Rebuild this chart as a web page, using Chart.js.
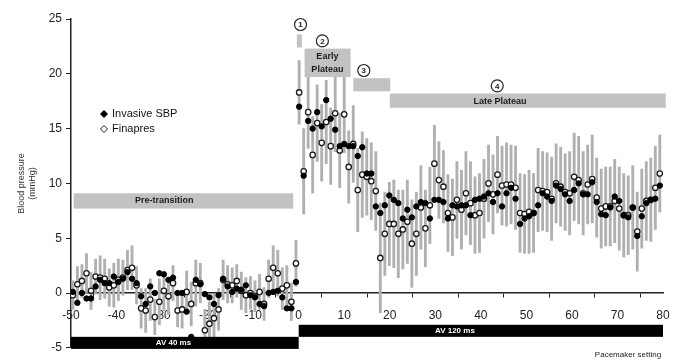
<!DOCTYPE html>
<html>
<head>
<meta charset="utf-8">
<script src="https://cdn.jsdelivr.net/npm/chart.js@4.4.1/dist/chart.umd.min.js"></script>
<style>
  body { margin: 0; background: #fff; }
  #wrap { width: 676px; height: 359px; }
</style>
</head>
<body>
<div id="wrap"><canvas id="bp"></canvas></div>
<script>
// sample times (min), one beat-average every ~1 unit
const preStart = -49.6
const preStep = 1.0
const postStart = 0.1
const postStep = 0.99

// AV 40 ms, before the switch
const invasivePre = [0.1,-0.9,0.0,-0.5,-0.5,0.6,1.2,0.9,0.9,1.5,
  1.0,1.3,1.9,1.3,0.9,-0.3,-1.0,0.6,0.0,1.8,
  1.7,1.2,1.4,0.0,0.0,-1.7,-4.0,1.2,0.8,-0.1,
  -0.4,-1.0,-0.2,1.3,0.6,0.1,0.4,0.3,0.7,-0.2,
  -0.4,-1.0,-1.2,0.0,0.1,0.2,-0.4,-1.4,-1.4,1.0]
const finapresPre = [-0.2,0.8,1.1,1.8,0.2,1.5,1.4,1.3,0.5,0.7,
  1.2,1.4,2.1,2.3,0.7,-1.4,-1.6,-0.6,-2.2,-0.8,
  0.2,-0.3,0.9,-1.6,-1.5,0.1,-1.0,0.9,0.9,-3.4,
  -2.8,-2.3,-1.5,1.2,0.8,0.7,1.1,0.2,-0.2,0.0,
  -0.3,0.1,-1.0,1.3,2.3,1.8,0.4,0.7,-0.8,2.7]
const sdPre = [1.3,1.6,1.5,1.8,1.7,1.6,2.0,1.8,1.7,2.0,
  1.9,1.6,1.8,2.0,1.7,1.8,2.0,1.9,1.6,2.1,
  1.8,1.7,1.6,1.5,1.7,1.9,2.0,2.1,1.8,1.9,
  2.0,2.2,1.9,1.8,1.7,1.6,1.5,1.7,1.6,1.5,
  1.4,1.6,1.5,1.7,2.0,2.1,1.9,1.8,1.7,2.1]

// AV 120 ms, after the switch
const invasivePost = [17.0,10.7,15.7,15.0,16.5,15.2,17.6,15.9,14.9,13.4,
  13.6,13.4,13.4,12.5,13.3,10.9,10.9,7.9,7.3,8.0,
  8.9,8.5,8.2,6.8,7.6,6.9,7.9,8.3,8.2,6.8,
  8.5,8.5,8.3,6.8,8.0,7.9,8.0,8.0,7.1,8.5,
  8.6,8.8,9.1,8.3,9.1,7.9,9.1,9.6,8.6,6.3,
  6.8,7.0,7.3,8.0,9.1,8.8,8.4,9.8,9.5,9.0,
  8.4,9.4,10.0,9.0,9.0,10.1,8.3,7.2,7.1,7.8,
  8.8,8.4,7.1,6.9,7.8,5.2,7.0,8.2,8.5,8.6,9.8]
const finapresPost = [18.3,11.1,16.5,12.6,15.5,13.7,15.6,13.4,16.4,13.0,
  16.3,11.5,13.6,9.4,10.8,10.6,10.2,9.3,3.2,5.4,
  6.3,6.3,5.4,5.8,6.5,4.5,5.4,7.8,5.9,8.0,
  11.8,10.3,9.7,7.3,6.9,8.5,7.6,9.1,8.2,7.1,
  7.3,8.6,10.0,9.0,10.8,9.8,9.9,9.9,9.6,7.3,
  7.2,7.4,7.3,9.4,9.3,9.2,8.6,10.0,9.7,9.2,
  9.1,10.6,10.3,9.1,9.9,10.4,8.7,7.7,7.9,7.9,
  8.4,7.7,7.1,7.1,7.8,5.6,7.7,8.4,8.5,9.6,10.9]
const sdPost = [2.9,3.9,3.3,3.5,3.5,3.5,3.8,3.5,3.5,3.4,
  3.5,3.3,3.5,3.8,3.9,3.5,3.5,3.6,5.0,3.8,
  3.8,4.0,4.0,3.6,3.8,4.0,3.8,3.8,3.5,3.5,
  3.5,3.5,3.3,3.5,3.5,3.5,3.6,3.8,3.8,3.5,
  3.6,3.6,3.5,3.6,3.5,3.6,3.8,3.6,3.8,3.6,
  3.6,3.8,3.6,3.8,3.6,3.6,3.8,3.6,3.6,3.5,
  3.8,4.0,4.0,3.8,3.6,4.0,3.6,3.6,3.6,3.6,
  3.8,3.8,3.8,3.6,3.8,3.6,3.6,3.6,3.8,3.8,3.5]

const xTickValues = [-50,-40,-30,-20,-10,0,10,20,30,40,50,60,70,80]
const yTickValues = [-5,0,5,10,15,20,25]

// phases (time windows) shown as grey boxes
const phaseMarks = ["", "1", "2", "3", "4"]
const phaseLabels = [["Pre-transition"], [], ["Early", "Plateau"], [], ["Late Plateau"]]
const phaseFrom = [-49.4, -0.4, 1.3, 12.0, 20.0]
const phaseTo = [-1.2, 0.7, 11.4, 20.1, 80.6]

// pacemaker settings shown as black boxes
const settingLabels = ["AV 40 ms", "AV 120 ms"]
const settingFrom = [-50, 0]
const settingTo = [0, 80]

// where the boxes and their texts sit (y in mmHg)
const phaseBand = [[9.1, 7.7], [23.6, 22.4], [22.3, 19.7], [19.6, 18.4], [18.2, 16.9]]
const phaseTextX = [-29.5, 0, 6.3, 0, 44.2]
const phaseTextY = [8.4, 0, 21.6, 0, 17.5]
const markAt = [null, [0.4, 24.5], [5.2, 23.0], [14.3, 20.3], [43.6, 18.9]]
const settingBand = [[-4.0, -5.1], [-2.9, -4.0]]
const settingTextX = [-27.5, 34.3]

const FONT = "'Liberation Sans', Arial, sans-serif"
Chart.defaults.font.family = FONT

function points(start, step, vals) {
  return vals.map((v, i) => ({ x: start + i * step, y: v }))
}
function spread(start, step, mid, sd) {
  return mid.map((v, i) => ({ x: start + i * step, y: [v - sd[i], v + sd[i]] }))
}

const invPts = points(preStart, preStep, invasivePre).concat(points(postStart, postStep, invasivePost))
const finPts = points(preStart, preStep, finapresPre).concat(points(postStart, postStep, finapresPost))
const sdBars = spread(preStart, preStep, finapresPre, sdPre).concat(spread(postStart, postStep, finapresPost, sdPost))

const boxes = {
  id: "boxes",
  afterDatasetsDraw(chart) {
    const { ctx, scales: { x, y } } = chart
    ctx.save()
    ctx.textAlign = "center"
    ctx.textBaseline = "middle"

    phaseFrom.forEach((from, i) => {
      const l = x.getPixelForValue(from), r = x.getPixelForValue(phaseTo[i])
      const t = y.getPixelForValue(phaseBand[i][0]), b = y.getPixelForValue(phaseBand[i][1])
      ctx.fillStyle = "#c2c2c2"
      ctx.fillRect(l, t, r - l, b - t)
      ctx.fillStyle = "#1a1a1a"
      ctx.font = "bold 9px " + FONT
      phaseLabels[i].forEach((line, k) => {
        ctx.fillText(line, x.getPixelForValue(phaseTextX[i]), y.getPixelForValue(phaseTextY[i]) + k * 13)
      })
      if (markAt[i]) {
        const cx = x.getPixelForValue(markAt[i][0]), cy = y.getPixelForValue(markAt[i][1])
        ctx.beginPath()
        ctx.arc(cx, cy, 6, 0, Math.PI * 2)
        ctx.fillStyle = "#fff"
        ctx.fill()
        ctx.lineWidth = 1.2
        ctx.strokeStyle = "#222"
        ctx.stroke()
        ctx.fillStyle = "#222"
        ctx.font = "bold 8px " + FONT
        ctx.fillText(phaseMarks[i], cx, cy + 0.5)
      }
    })

    settingFrom.forEach((from, i) => {
      const l = x.getPixelForValue(from), r = x.getPixelForValue(settingTo[i])
      const t = y.getPixelForValue(settingBand[i][0]), b = y.getPixelForValue(settingBand[i][1])
      ctx.fillStyle = "#000"
      ctx.fillRect(l, t, r - l, b - t)
      ctx.fillStyle = "#fff"
      ctx.font = "bold 8px " + FONT
      ctx.fillText(settingLabels[i], x.getPixelForValue(settingTextX[i]), (t + b) / 2)
    })
    ctx.restore()
  },
  afterDraw(chart) {
    const ctx = chart.ctx
    ctx.save()
    // legend, drawn inside the plot like the original
    const items = [chart.data.datasets[2], chart.data.datasets[1]]
    items.forEach((ds, i) => {
      const py = 114 + i * 15
      ctx.fillStyle = ds.pointBackgroundColor
      ctx.strokeStyle = ds.pointBorderColor
      ctx.beginPath()
      ctx.moveTo(104, py - 3.5); ctx.lineTo(107.5, py); ctx.lineTo(104, py + 3.5); ctx.lineTo(100.5, py); ctx.closePath()
      ctx.fill(); ctx.lineWidth = 1; ctx.stroke()
      ctx.fillStyle = "#111"
      ctx.font = "11px " + FONT
      ctx.textAlign = "left"
      ctx.textBaseline = "middle"
      ctx.fillText(ds.label, 112, py)
    })
    ctx.font = "8px " + FONT
    ctx.textAlign = "center"
    ctx.fillStyle = "#222"
    ctx.fillText("Pacemaker setting", 628, 355)
    ctx.restore()
  }
}

new Chart("bp", {
  type: "scatter",
  data: {
    datasets: [{
      type: "bar",
      label: "SD",
      data: sdBars,
      backgroundColor: "#b0b0b0",
      borderWidth: 0,
      barThickness: 2.2,
      order: 3
    }, {
      label: "Finapres",
      data: finPts,
      pointStyle: "circle",
      pointRadius: 2.7,
      pointBackgroundColor: "#fff",
      pointBorderColor: "#1a1a1a",
      pointBorderWidth: 1.3,
      order: 2
    }, {
      label: "Invasive SBP",
      data: invPts,
      pointStyle: "circle",
      pointRadius: 2.7,
      pointBackgroundColor: "#000",
      pointBorderColor: "#000",
      pointBorderWidth: 1,
      order: 1
    }]
  },
  options: {
    responsive: true,
    maintainAspectRatio: false,
    animation: false,
    layout: { padding: { top: 19, right: 13, bottom: 11, left: 0 } },
    plugins: { legend: { display: false }, tooltip: { enabled: false } },
    scales: {
      x: {
        type: "linear",
        min: -50,
        max: 80,
        offset: false,
        position: { y: 0 },
        afterBuildTicks: s => { s.ticks = xTickValues.map(v => ({ value: v })) },
        afterFit: s => { s.paddingLeft = 0; s.paddingRight = 0 },
        ticks: { color: "#222", font: { size: 12 }, padding: 11, maxRotation: 0, autoSkip: false },
        grid: { drawOnChartArea: false, tickLength: 4, color: "#222" },
        border: { color: "#222", width: 1.5 }
      },
      y: {
        min: -5,
        max: 25,
        afterBuildTicks: s => { s.ticks = yTickValues.map(v => ({ value: v })) },
        afterFit: s => { s.width = 71 },
        ticks: { color: "#222", font: { size: 12 }, padding: 4 },
        grid: { drawOnChartArea: false, tickLength: 5, color: "#222" },
        border: { color: "#222", width: 1.5 },
        title: {
          display: true,
          text: ["Blood pressure", "(mmHg)"],
          color: "#333",
          font: { size: 9 },
          padding: { top: 16, bottom: 0 }
        }
      }
    }
  },
  plugins: [boxes]
})
</script>
</body>
</html>
